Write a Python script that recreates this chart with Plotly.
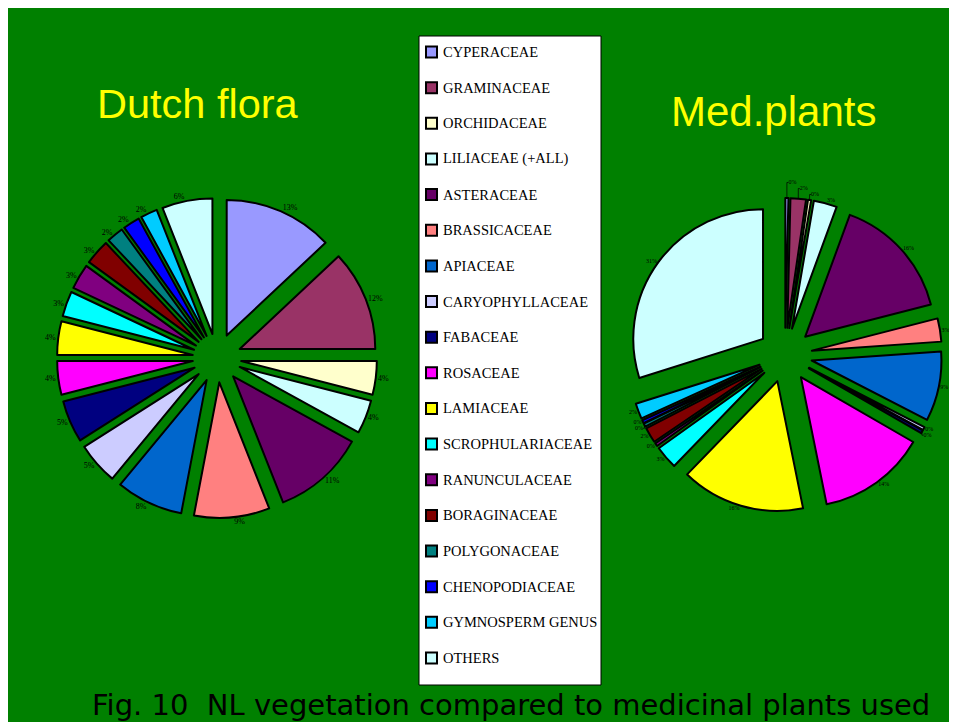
import plotly.graph_objects as go

# ---------------- data ----------------
families = ["CYPERACEAE", "GRAMINACEAE", "ORCHIDACEAE", "LILIACEAE (+ALL)", "ASTERACEAE",
            "BRASSICACEAE", "APIACEAE", "CARYOPHYLLACEAE", "FABACEAE", "ROSACEAE",
            "LAMIACEAE", "SCROPHULARIACEAE", "RANUNCULACEAE", "BORAGINACEAE",
            "POLYGONACEAE", "CHENOPODIACEAE", "GYMNOSPERM GENUS", "OTHERS"]
dutch_flora = [13, 12, 4, 4, 11, 9, 8, 5, 5, 4, 4, 3, 3, 3, 2, 2, 2, 6]
med_plants = [0.4, 2, 0.4, 3, 16, 3, 9, 0.4, 0.4, 14, 16, 3, 0.4, 2, 0.4, 0.4, 2, 31]
colors = ["#9999FF", "#993366", "#FFFFCC", "#CCFFFF", "#660066", "#FF8080", "#0066CC",
          "#CCCCFF", "#000080", "#FF00FF", "#FFFF00", "#00FFFF", "#800080", "#800000",
          "#008080", "#0000FF", "#00CCFF", "#CCFFFF"]
titles = ["Dutch flora", "Med.plants"]
caption = "Fig. 10\u00a0 NL vegetation compared to medicinal plants used"

# ---------------- geometry helpers ----------------
W, H = 965, 720
OX, OY = 8, 8  # page body margin


def fx(sx):
    return (sx - OX) / W


def fy(sy):
    return 1 - (sy - OY) / H


fig = go.Figure()

fig.add_trace(go.Pie(
    labels=families, values=dutch_flora, sort=False, direction="clockwise", rotation=0,
    marker=dict(colors=colors, line=dict(color="black", width=2)),
    pull=[0.18] * len(families),
    texttemplate="%{value:.0f}%", textposition="outside",
    textfont=dict(family="Liberation Serif", size=8, color="black"),
    domain=dict(x=[fx(57), fx(377)], y=[fy(518), fy(198)]),
    showlegend=False, automargin=False, hoverinfo="label+percent",
))

fig.add_trace(go.Pie(
    labels=families, values=med_plants, sort=False, direction="clockwise", rotation=0,
    marker=dict(colors=colors, line=dict(color="black", width=2)),
    pull=[0.21] * len(families),
    texttemplate="%{value:.0f}%", textposition="outside",
    textfont=dict(family="Liberation Serif", size=6, color="black"),
    domain=dict(x=[fx(628), fx(942)], y=[fy(512), fy(198)]),
    showlegend=False, automargin=False, hoverinfo="label+percent",
))

shapes = []
annotations = []

# legend box
shapes.append(dict(type="rect", xref="paper", yref="paper",
                   x0=fx(419), x1=fx(601), y0=fy(685), y1=fy(36),
                   fillcolor="white", line=dict(color="black", width=1), layer="below"))
step = (658 - 52) / (len(families) - 1)
for i, (name, col) in enumerate(zip(families, colors)):
    cy = 52 + i * step
    shapes.append(dict(type="rect", xref="paper", yref="paper",
                       x0=fx(426), x1=fx(437), y0=fy(cy + 5.5), y1=fy(cy - 5.5),
                       fillcolor=col, line=dict(color="black", width=2), layer="above"))
    annotations.append(dict(text=name, xref="paper", yref="paper", x=fx(441), y=fy(cy),
                            xanchor="left", yanchor="middle", showarrow=False,
                            font=dict(family="Liberation Serif", size=14.5, color="black")))

# titles
annotations.append(dict(text=titles[0], xref="paper", yref="paper", x=fx(198), y=fy(104),
                        xanchor="center", yanchor="middle", showarrow=False,
                        font=dict(family="Liberation Sans", size=41.5, color="#FFFF00")))
annotations.append(dict(text=titles[1], xref="paper", yref="paper", x=fx(773), y=fy(112),
                        xanchor="center", yanchor="middle", showarrow=False,
                        font=dict(family="Liberation Sans", size=42, color="#FFFF00")))
# caption
annotations.append(dict(text=caption, xref="paper", yref="paper", x=fx(511), y=fy(705),
                        xanchor="center", yanchor="middle", showarrow=False,
                        font=dict(family="DejaVu Sans", size=29, color="black")))

fig.update_layout(
    width=W, height=H, margin=dict(l=0, r=0, t=0, b=0, pad=0, autoexpand=False),
    showlegend=False,
    paper_bgcolor="#008000", plot_bgcolor="#008000",
    shapes=shapes, annotations=annotations,
)

fig.write_html("out.html",
               post_script="document.documentElement.style.overflow='hidden';"
                           "document.body.style.overflow='hidden';")
